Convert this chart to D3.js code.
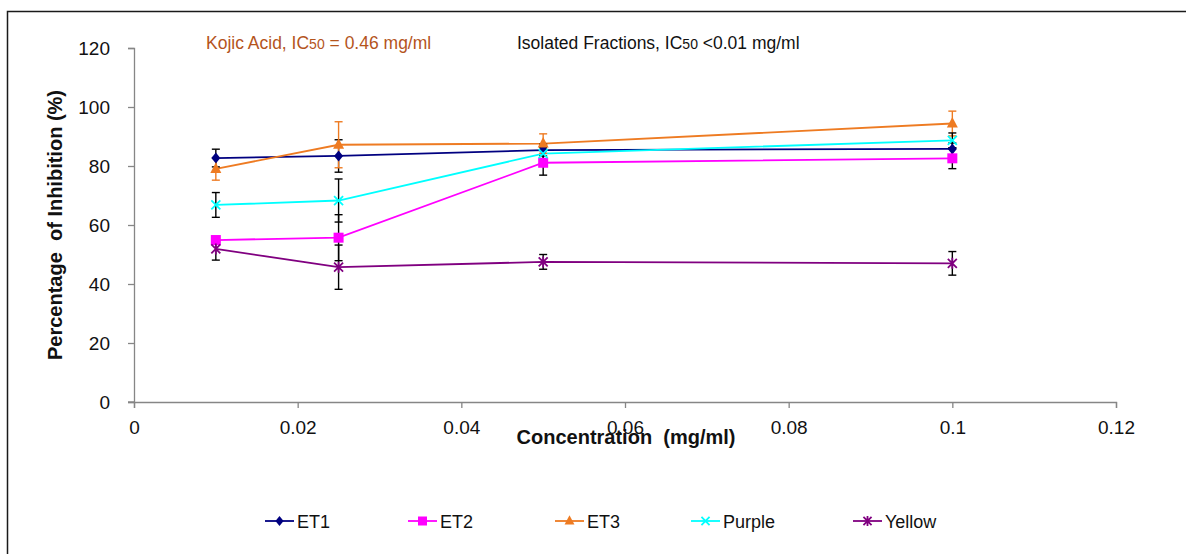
<!DOCTYPE html>
<html>
<head>
<meta charset="utf-8">
<script src="https://cdn.jsdelivr.net/npm/d3@7"></script>
<style>
  html, body { margin: 0; padding: 0; background: #fff; }
  svg { display: block; font-family: "Liberation Sans", Arial, sans-serif; }
</style>
</head>
<body>
<svg id="chart" width="1186" height="554"></svg>
<script>
// Concentrations (mg/ml)
const concentrations = [0.01, 0.025, 0.05, 0.1];

// Percentage of inhibition per fraction
const et1    = [82.7, 83.4, 85.4, 85.8];
const et2    = [54.9, 55.7, 81.1, 82.6];
const et3    = [79.0, 87.2, 87.6, 94.4];
const purple = [66.8, 68.3, 84.2, 88.7];
const yellow = [51.9, 45.7, 47.5, 47.0];

// Standard deviations
const et1Err    = [3.0, 5.5, 2.0, 2.0];
const et2Err    = [1.2, 7.8, 4.2, 3.5];
const et3Err    = [3.8, 7.8, 3.3, 4.2];
const purpleErr = [4.2, 7.3, 2.0, 2.5];
const yellowErr = [3.8, 7.5, 2.5, 4.0];

const seriesNames = ["ET1", "ET2", "ET3", "Purple", "Yellow"];
const xTicks = [0, 0.02, 0.04, 0.06, 0.08, 0.1, 0.12];
const yTicks = [0, 20, 40, 60, 80, 100, 120];

const series = [
  { name: seriesNames[0], values: et1,    err: et1Err,    color: "#000080", marker: "diamond",  errColor: "#000" },
  { name: seriesNames[1], values: et2,    err: et2Err,    color: "#FF00FF", marker: "square",   errColor: "#000" },
  { name: seriesNames[2], values: et3,    err: et3Err,    color: "#EE7B22", marker: "triangle", errColor: "#EE7B22" },
  { name: seriesNames[3], values: purple, err: purpleErr, color: "#00FFFF", marker: "cross",    errColor: "#000" },
  { name: seriesNames[4], values: yellow, err: yellowErr, color: "#800080", marker: "star",     errColor: "#000" }
];

const svg = d3.select("#chart");

// Outer frame
svg.append("rect")
  .attr("x", 7.5).attr("y", 11.5)
  .attr("width", 1200).attr("height", 600)
  .attr("fill", "none").attr("stroke", "#1a1a1a").attr("stroke-width", 1.5);

const x = d3.scaleLinear().domain([0, 0.12]).range([134, 1116]);
const y = d3.scaleLinear().domain([0, 120]).range([402, 48]);

const axisColor = "#868686";

// X axis
const xAxis = svg.append("g")
  .attr("transform", `translate(0,${y(0)})`)
  .call(d3.axisBottom(x).tickValues(xTicks).tickSize(6).tickFormat(d => d3.format("~g")(d)).tickPadding(13));
// Y axis
const yAxis = svg.append("g")
  .attr("transform", `translate(${x(0)},0)`)
  .call(d3.axisLeft(y).tickValues(yTicks).tickSize(6).tickPadding(18));

[xAxis, yAxis].forEach(g => {
  g.select(".domain").attr("stroke", axisColor).attr("stroke-width", 1.3);
  g.selectAll(".tick line").attr("stroke", axisColor).attr("stroke-width", 1.3);
  g.selectAll(".tick text").attr("fill", "#111").style("font-size", "19px")
    .style("font-family", "'Liberation Sans', Arial, sans-serif");
});
// extend axis line slightly left of origin
svg.append("line").attr("x1", x(0) - 6).attr("x2", x(0)).attr("y1", y(0)).attr("y2", y(0))
  .attr("stroke", axisColor).attr("stroke-width", 1.3);

// Axis titles
svg.append("text")
  .attr("x", 626).attr("y", 444)
  .attr("text-anchor", "middle")
  .style("font-size", "20px").style("font-weight", "bold").attr("fill", "#111")
  .attr("xml:space", "preserve")
  .text("Concentration  (mg/ml)");

svg.append("text")
  .attr("transform", `translate(62,225) rotate(-90)`)
  .attr("text-anchor", "middle")
  .style("font-size", "20px").style("font-weight", "bold").attr("fill", "#111")
  .attr("xml:space", "preserve")
  .text("Percentage  of Inhibition (%)");

// Annotations
const ann1 = svg.append("text").attr("x", 206).attr("y", 49)
  .style("font-size", "17.5px").attr("fill", "#B4541C");
ann1.append("tspan").text("Kojic Acid, IC");
ann1.append("tspan").style("font-size", "14px").text("50");
ann1.append("tspan").text(" = 0.46 mg/ml");

const ann2 = svg.append("text").attr("x", 517).attr("y", 49)
  .style("font-size", "17.5px").attr("fill", "#111");
ann2.append("tspan").text("Isolated Fractions, IC");
ann2.append("tspan").style("font-size", "14px").text("50");
ann2.append("tspan").text(" <0.01 mg/ml");

// Marker drawing
function drawMarker(g, type, color, cx, cy, scale = 1) {
  const s = scale;
  if (type === "diamond") {
    g.append("path").attr("d", `M${cx},${cy - 5.5 * s}L${cx + 4.5 * s},${cy}L${cx},${cy + 5.5 * s}L${cx - 4.5 * s},${cy}Z`)
      .attr("fill", color);
  } else if (type === "square") {
    g.append("rect").attr("x", cx - 5 * s).attr("y", cy - 5 * s).attr("width", 10 * s).attr("height", 10 * s)
      .attr("fill", color);
  } else if (type === "triangle") {
    g.append("path").attr("d", `M${cx},${cy - 6.5 * s}L${cx + 5.5 * s},${cy + 4 * s}L${cx - 5.5 * s},${cy + 4 * s}Z`)
      .attr("fill", color);
  } else if (type === "cross") {
    const r = 4.5 * s;
    g.append("path").attr("d", `M${cx - r},${cy - r}L${cx + r},${cy + r}M${cx - r},${cy + r}L${cx + r},${cy - r}`)
      .attr("stroke", color).attr("stroke-width", 1.8).attr("fill", "none");
  } else if (type === "star") {
    const r = 4.5 * s;
    g.append("path").attr("d", `M${cx - r},${cy - r}L${cx + r},${cy + r}M${cx - r},${cy + r}L${cx + r},${cy - r}M${cx},${cy - r - 1}L${cx},${cy + r + 1}`)
      .attr("stroke", color).attr("stroke-width", 1.8).attr("fill", "none");
  }
}

const plot = svg.append("g");
const line = d3.line().x((d, i) => x(concentrations[i])).y(d => y(d));

// Lines
series.forEach(s => {
  plot.append("path").datum(s.values)
    .attr("d", line)
    .attr("fill", "none").attr("stroke", s.color).attr("stroke-width", 1.8);
});

// Error bars
series.forEach(s => {
  s.values.forEach((v, i) => {
    const cx = x(concentrations[i]);
    const g = plot.append("g").attr("stroke", s.errColor).attr("stroke-width", 1.4);
    g.append("line").attr("x1", cx).attr("x2", cx).attr("y1", y(v + s.err[i])).attr("y2", y(v - s.err[i]));
    [v + s.err[i], v - s.err[i]].forEach(e => {
      g.append("line").attr("x1", cx - 4).attr("x2", cx + 4).attr("y1", y(e)).attr("y2", y(e));
    });
  });
});

// Markers
series.forEach(s => {
  s.values.forEach((v, i) => drawMarker(plot, s.marker, s.color, x(concentrations[i]), y(v)));
});

// Legend
const legendX = [265, 408, 555, 691, 853];
series.forEach((s, i) => {
  const g = svg.append("g");
  const lx = legendX[i];
  g.append("line").attr("x1", lx).attr("x2", lx + 29).attr("y1", 521).attr("y2", 521)
    .attr("stroke", s.color).attr("stroke-width", 1.8);
  drawMarker(g, s.marker, s.color, lx + 14.5, 521, 0.9);
  g.append("text").attr("x", lx + 32).attr("y", 528)
    .style("font-size", "18px").attr("fill", "#111").text(s.name);
});
</script>
</body>
</html>
